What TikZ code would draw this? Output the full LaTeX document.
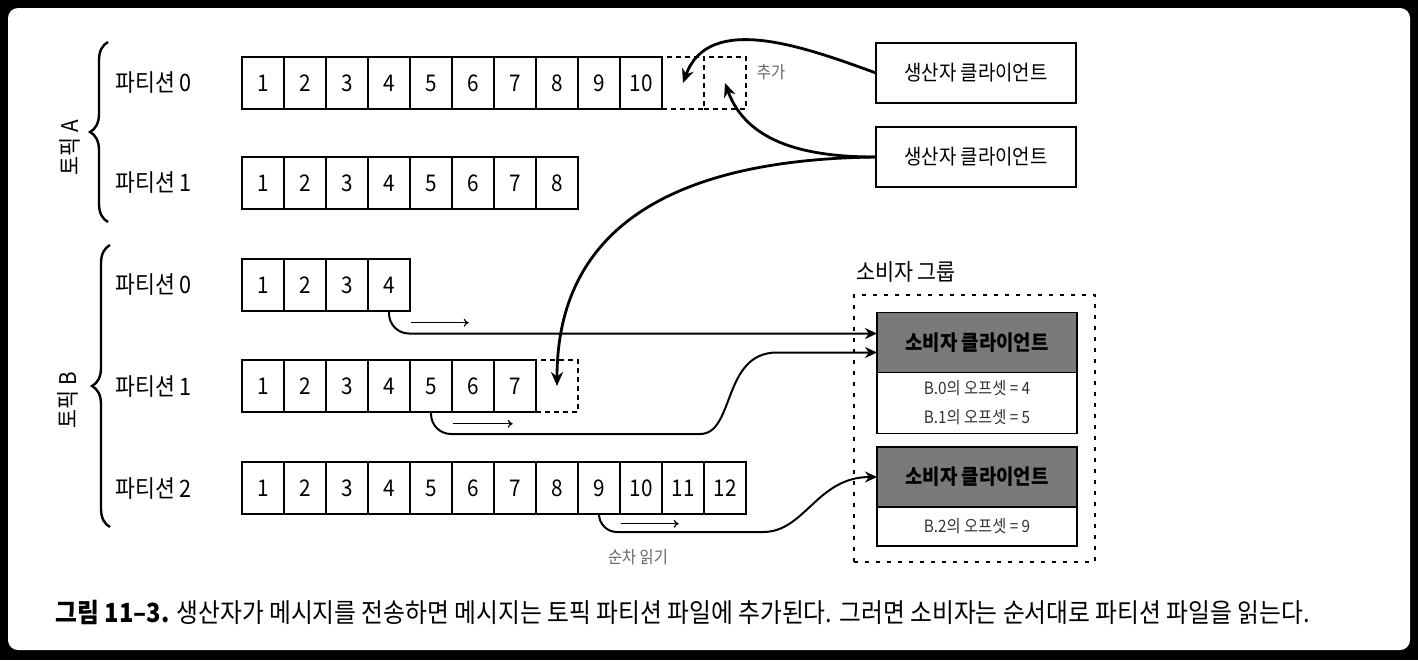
\documentclass[tikz,border=0pt]{standalone}
\usepackage{fontspec}
\setmainfont{Noto Sans CJK KR}[FakeStretch=0.9]
\usetikzlibrary{arrows.meta,decorations.pathreplacing,positioning}
\begin{document}
\begin{tikzpicture}[x=0.5pt,y=0.5pt]
\tikzset{cell/.style = {draw, line width=0.7pt, minimum width=21pt, minimum height=26pt, inner sep=0pt, font=\fontsize{11.5}{13}\selectfont}}
\tikzset{newcell/.style = {cell, dash pattern=on 2.5pt off 2pt}}
\tikzset{client/.style = {draw, line width=0.7pt, minimum width=100pt, minimum height=30pt, inner sep=0pt, outer sep=0pt, font=\fontsize{10.5}{12}\selectfont}}
\tikzset{header/.style = {client, fill=black!52, font=\fontsize{10.5}{12}\selectfont\bfseries}}
\tikzset{offsets/.style = {client, align=center, text=black!80, font=\fontsize{8.5}{14.5}\selectfont}}
\tikzset{edge/.style = {-{Stealth[length=7pt,width=6pt]}, line width=1.4pt}}
\tikzset{cedge/.style = {-{Stealth[length=6pt,width=5.5pt]}, line width=1pt}}
\tikzset{readarrow/.style = {-{To[length=2.5pt,width=4pt]}, line width=0.6pt}}
\tikzset{part/.style = {anchor=west, inner sep=0pt, font=\fontsize{12}{14}\selectfont}}
\tikzset{topic/.style = {rotate=90, inner sep=0pt, font=\fontsize{11.5}{13}\selectfont}}
\tikzset{brace/.style = {decorate, decoration={brace, amplitude=9pt}, line width=1.2pt}}
\tikzset{note/.style = {text=black!60, inner sep=0pt, font=\fontsize{8.5}{10}\selectfont}}
\fill [black] (0,0) rectangle (1418,-660);
\fill [white, rounded corners=5pt] (8,-8) rectangle (1410,-650);
\useasboundingbox (0,0) rectangle (1418,-660);
\node [topic] at (70,-148)(ta) {토픽 A};
\node [topic] at (68,-400)(tb) {토픽 B};
\draw [brace] (108,-222) -- (108,-42);
\draw [brace] (110,-527) -- (110,-245);
\node [part] at (115,-83)(pa0) {파티션 0};
\node [part] at (115,-183)(pa1) {파티션 1};
\node [part] at (115,-285)(pb0) {파티션 0};
\node [part] at (115,-386)(pb1) {파티션 1};
\node [part] at (115,-488)(pb2) {파티션 2};
\foreach \i in {1,...,10} \node [cell] at (221+42*\i,-83)(a0c\i) {\i};
\node [newcell] at (683,-83)(a0n1) {};
\node [newcell] at (725,-83)(a0n2) {};
\foreach \i in {1,...,8} \node [cell] at (221+42*\i,-183)(a1c\i) {\i};
\foreach \i in {1,...,4} \node [cell] at (221+42*\i,-285)(b0c\i) {\i};
\foreach \i in {1,...,7} \node [cell] at (221+42*\i,-386)(b1c\i) {\i};
\node [newcell] at (557,-386)(b1n) {};
\foreach \i in {1,...,12} \node [cell] at (221+42*\i,-488)(b2c\i) {\i};
\node [note] at (771,-72)(addnote) {추가};
\node [client] at (976,-73)(p1) {생산자 클라이언트};
\node [client] at (976,-157)(p2) {생산자 클라이언트};
\draw [edge] (p1.west) to [out=160,in=70] (a0n1.center);
\draw [edge] (p2.west) to [out=180,in=-70] (a0n2.center);
\draw [edge] (p2.west) .. controls +(-176,-2) and +(0,175) .. (b1n.center);
\node [draw, dash pattern=on 2pt off 3.5pt, line width=0.8pt, minimum width=120.5pt, minimum height=133.5pt] at (974.5,-428.5)(grp) {};
\node [font=\fontsize{11.5}{13}\selectfont] at (906,-272)(grplabel) {소비자 그룹};
\node [header] at (977,-342.5)(c1) {소비자 클라이언트};
\node [offsets, minimum height=30.5pt, below=0pt of c1](c1o) {B.0의 오프셋 = 4\\B.1의 오프셋 = 5};
\node [header] at (977,-477)(c2) {소비자 클라이언트};
\node [offsets, minimum height=19.5pt, below=0pt of c2](c2o) {B.2의 오프셋 = 9};
\coordinate (b1turn) at (680,-434);
\coordinate (b2turn) at (745,-532);
\draw [cedge, rounded corners=10pt] (b0c4.south) |- ([yshift=4.5pt]c1.west);
\draw [cedge] (b1c5.south) [rounded corners=10pt] |- (b1turn) [sharp corners] .. controls +(55,0) and +(-55,0) .. ([xshift=-50pt,yshift=-5pt]c1.west) -- ([yshift=-5pt]c1.west);
\draw [cedge] (b2c9.south) [rounded corners=9pt] |- (b2turn) [sharp corners] .. controls +(60,0) and +(-60,0) .. (c2.west);
\draw [readarrow] ([yshift=-5.5pt]b0c4.south east) -- ++(58,0);
\draw [readarrow] ([yshift=-5.5pt]b1c5.south east) -- ++(60,0);
\draw [readarrow] ([yshift=-4.5pt]b2c9.south east) -- ++(58,0);
\node [note] at (638,-557)(readnote) {순차 읽기};
\node [anchor=west, inner sep=0pt, font=\fontsize{13.2}{15}\selectfont] at (55,-612)(caption) {\textbf{그림 11–3.} 생산자가 메시지를 전송하면 메시지는 토픽 파티션 파일에 추가된다. 그러면 소비자는 순서대로 파티션 파일을 읽는다.};
\end{tikzpicture}
\end{document}
